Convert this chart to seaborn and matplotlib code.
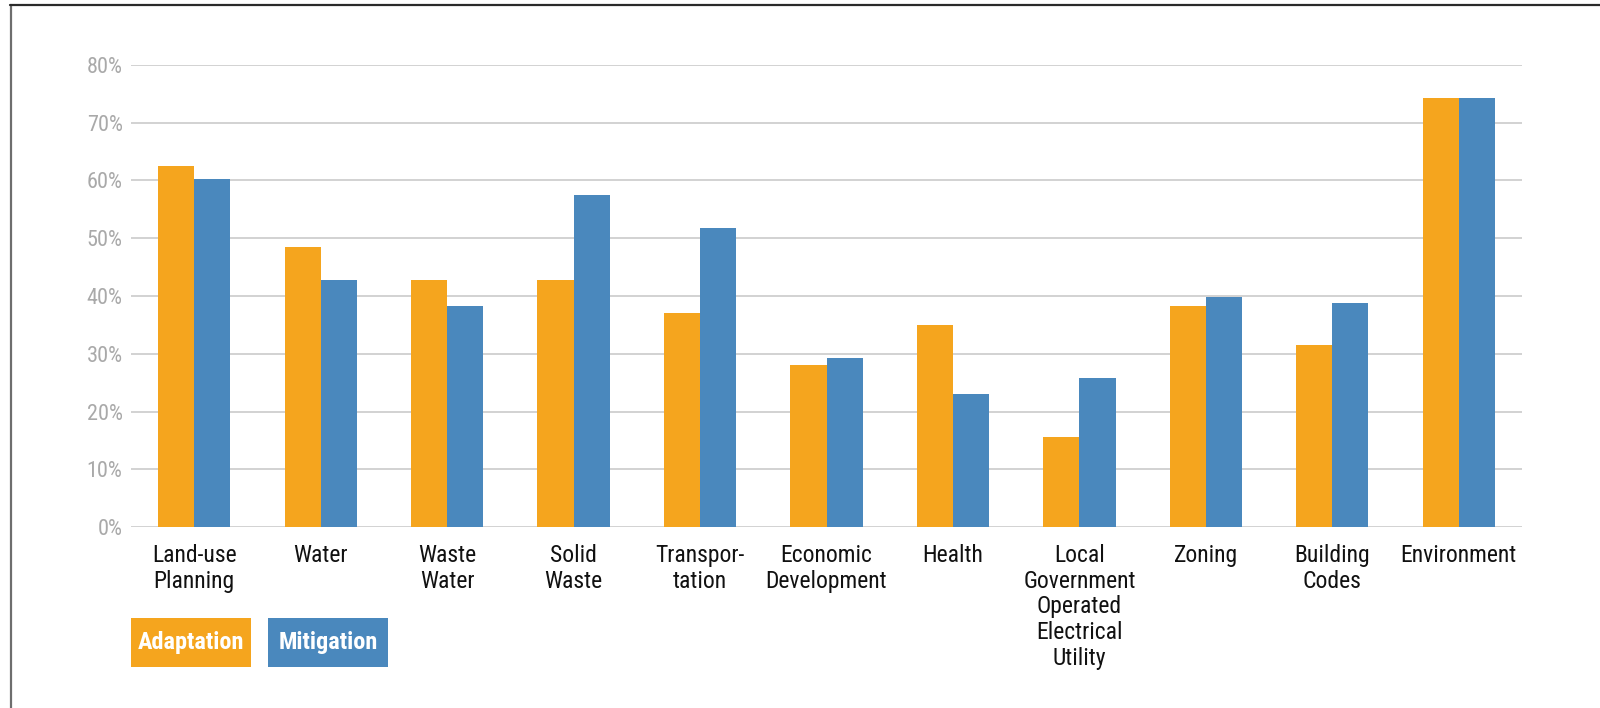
import matplotlib
matplotlib.use("Agg")
import matplotlib.pyplot as plt
from matplotlib import font_manager
from matplotlib.patches import Rectangle
from matplotlib.lines import Line2D
from matplotlib.ticker import FuncFormatter
import seaborn as sns
import pandas as pd

# --- data -------------------------------------------------------------
categories = [
    "Land-use\nPlanning", "Water", "Waste\nWater", "Solid\nWaste",
    "Transpor-\ntation", "Economic\nDevelopment", "Health",
    "Local\nGovernment\nOperated\nElectrical\nUtility", "Zoning",
    "Building\nCodes", "Environment",
]
series = ["Adaptation", "Mitigation"]
adaptation = [62.5, 48.4, 42.8, 42.8, 37.1, 28.1, 34.9, 15.7, 38.3, 31.5, 74.3]
mitigation = [60.2, 42.8, 38.3, 57.4, 51.8, 29.2, 23.0, 25.8, 39.9, 38.8, 74.3]
yticks = [0, 10, 20, 30, 40, 50, 60, 70, 80]

colors = ["#F5A51E", "#4A88BD"]

df = pd.DataFrame({
    "category": categories * 2,
    "series": [series[0]] * len(categories) + [series[1]] * len(categories),
    "value": adaptation + mitigation,
})

# --- fonts --------------------------------------------------------------
sns.set_theme(style="white")
installed = {f.name for f in font_manager.fontManager.ttflist}
narrow = None
for name in ["Liberation Sans Narrow", "Roboto Condensed", "Open Sans Condensed"]:
    if name in installed:
        narrow = name
        break
if narrow is None:
    narrow = "DejaVu Sans"
plt.rcParams["font.family"] = [narrow, "DejaVu Sans"]
if narrow == "DejaVu Sans":
    plt.rcParams["font.stretch"] = "condensed"

# --- figure -------------------------------------------------------------
fig = plt.figure(figsize=(16, 7.08), dpi=100)
ax = fig.add_axes([131 / 1600, 1 - 527.3 / 708, (1522 - 131) / 1600, (527.3 - 64.7) / 708])

sns.barplot(
    data=df, x="category", y="value", hue="series", order=categories,
    hue_order=series, palette=colors, width=0.572, gap=0, dodge=True,
    saturation=1, linewidth=0, legend=False, ax=ax,
)

ax.set_xlim(-0.5, len(categories) - 0.5)
ax.set_ylim(0, 80)
ax.set_yticks(yticks)
ax.yaxis.set_major_formatter(FuncFormatter(lambda v, _: f"{v:.0f}%"))
ax.set_xlabel("")
ax.set_ylabel("")

ax.set_axisbelow(True)
ax.grid(axis="y", color="#c6c6c6", linewidth=1.1)
ax.grid(axis="x", visible=False)
for side in ["top", "right", "left", "bottom"]:
    ax.spines[side].set_visible(False)

ax.tick_params(axis="y", length=0, pad=6, labelsize=16, labelcolor="#a9a9a9")
ax.tick_params(axis="x", length=0, pad=12, labelsize=17, labelcolor="#111111")
for lbl in ax.get_xticklabels():
    lbl.set_linespacing(1.15)
    lbl.set_multialignment("center")

# --- legend boxes ---------------------------------------------------------
boxes = [(131, 250.7), (268, 387.7)]
y0, y1 = 618, 666.7
for (x0, x1), name, col in zip(boxes, series, colors):
    fig.patches.append(Rectangle(
        (x0 / 1600, 1 - y1 / 708), (x1 - x0) / 1600, (y1 - y0) / 708,
        transform=fig.transFigure, facecolor=col, edgecolor="none"))
    fig.text((x0 + x1) / 2 / 1600, 1 - (y0 + y1) / 2 / 708, name,
             ha="center", va="center", color="white", fontsize=17.5,
             fontweight="bold")

# --- outer frame (left and top edges) -------------------------------------
fig.lines.append(Line2D([10.7 / 1600, 10.7 / 1600], [0, 1 - 5.3 / 708],
                        transform=fig.transFigure, color="#6e6e6e", linewidth=1.6))
fig.lines.append(Line2D([10 / 1600, 1], [1 - 5.3 / 708, 1 - 5.3 / 708],
                        transform=fig.transFigure, color="#2a2a2a", linewidth=1.6))

fig.savefig("out.png", dpi=100, facecolor="white")
